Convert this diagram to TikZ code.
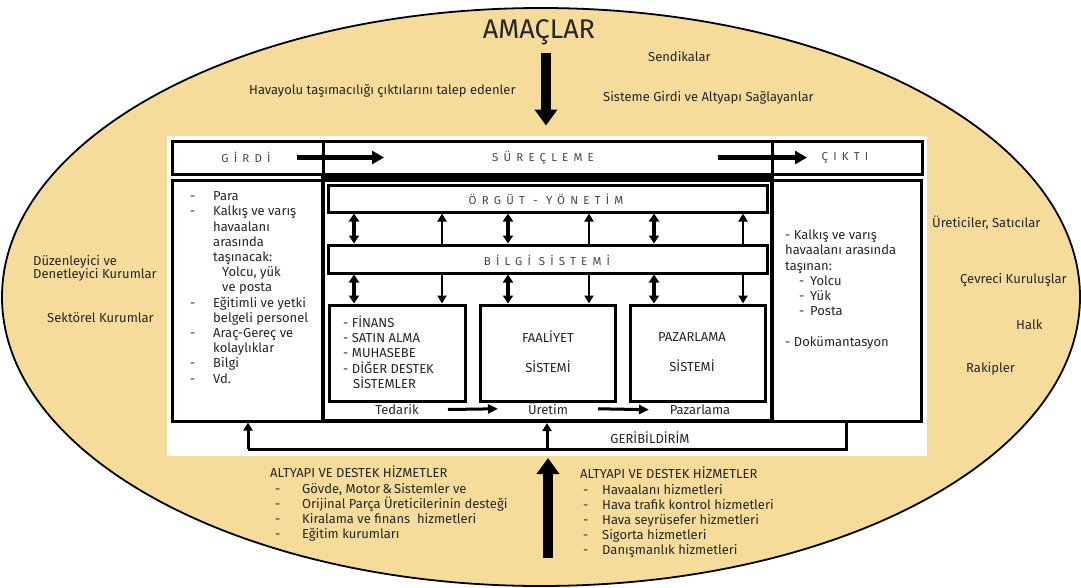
\documentclass[tikz,border=0pt]{standalone}
\usepackage{fontspec}
\setmainfont{Fira Sans}
\newfontfamily\spacedfont[LetterSpace=45]{Fira Sans}
\usetikzlibrary{arrows.meta}
\definecolor{sand}{RGB}{246,220,155}
\definecolor{ink}{RGB}{38,38,38}
\definecolor{hdr}{RGB}{70,70,85}
\newcommand{\dashrow}[1]{\makebox[23pt][l]{-}#1}
\newcommand{\controw}[1]{\hspace*{23pt}#1}
% fixed height for the first line of a list, so its top sits 11pt above the baseline
\newcommand{\firstline}{\rule{0pt}{11pt}}
\begin{document}
\begin{tikzpicture}[x=1pt,y=-1pt,
  txt/.style={font=\fontsize{13}{15.2}\selectfont, text=ink, inner sep=0pt},
  hdrtxt/.style={font=\spacedfont\fontsize{11.5}{13}\selectfont, text=hdr, inner sep=0pt},
  box/.style={draw=black, line width=3pt, fill=white, inner sep=0pt},
  thinarr/.style={line width=2.5pt, -{Triangle[width=9pt,length=8pt]}},
  dblarr/.style={line width=3.5pt, {Triangle[width=10pt,length=8pt]}-{Triangle[width=10pt,length=8pt]}},
  flowarr/.style={line width=5.5pt, -{Triangle[width=13pt,length=12pt]}},
  steparr/.style={line width=3pt, -{Triangle[width=9pt,length=10pt]}},
  bigarr/.style={line width=10pt, -{Triangle[width=22pt,length=16pt]}},
  fbline/.style={line width=3pt}
]
\useasboundingbox (0,0) rectangle (1081,587);
\fill[white] (0,0) rectangle (1081,587);

% outer environment
\draw[fill=sand, line width=1.8pt] (541,297) ellipse [x radius=539, y radius=289];

% white panel holding the system
\fill[white] (167,136) rectangle (927,456);

% top bar
\node[box, minimum width=151pt, minimum height=33pt] (girdi) at (247.5,157.5) {};
\node[box, minimum width=449pt, minimum height=33pt] (surec) at (547.5,157.5) {};
\node[box, minimum width=150pt, minimum height=33pt] (cikti) at (847,157.5) {};
\node[hdrtxt] at (246,157.5) {GİRDİ};
\node[hdrtxt] at (543,157.5) {SÜREÇLEME};
\node[hdrtxt] at (845,157.5) {ÇIKTI};

% body
\node[box, minimum width=151pt, minimum height=241pt] (inp) at (247.5,300.5) {};
\node[box, minimum width=149pt, minimum height=241pt] (out) at (846.5,300.5) {};
\node[box, line width=4pt, minimum width=449pt, minimum height=241pt] (proc) at (547.5,300.5) {};
\draw[line width=6pt] (proc.north west) -- (proc.north east);

% process layers
\node[box, minimum width=439pt, minimum height=27pt] (org) at (547.5,198.5) {};
\node[hdrtxt] at (546,199) {ÖRGÜT - YÖNETİM};
\node[box, minimum width=439pt, minimum height=28pt] (bil) at (547.5,259) {};
\node[hdrtxt] at (547,260) {BİLGİ\hspace{8pt}SİSTEMİ};

\node[box, minimum width=136pt, minimum height=96pt] (fin) at (397,353) {};
\node[box, minimum width=135pt, minimum height=96pt] (faal) at (547.5,353) {};
\node[box, minimum width=135pt, minimum height=96pt] (pzr) at (697.5,353) {};

\node[txt, anchor=north west, align=left] (finlist) at (343,315.5) {\firstline- FİNANS\\- SATIN ALMA\\- MUHASEBE\\- DİĞER DESTEK\\\hspace*{10pt}SİSTEMLER};
\node[txt, anchor=north, align=center, font=\fontsize{13}{30}\selectfont] (faaltxt) at (548,330.5) {\firstline FAALİYET\\SİSTEMİ};
\node[txt, anchor=north, align=center, font=\fontsize{13}{30}\selectfont] (pzrtxt) at (692,330.5) {\firstline PAZARLAMA\\SİSTEMİ};

% arrows between the layers
\foreach \xx in {354,508,654} {
  \draw[dblarr] (org.south -| \xx,0) -- (bil.north -| \xx,0);
  \draw[dblarr] (bil.south -| \xx,0) -- (fin.north -| \xx,0);
}
\foreach \xx in {442,589,743} {
  \draw[thinarr] (bil.north -| \xx,0) -- (org.south -| \xx,0);
  \draw[thinarr] (bil.south -| \xx,0) -- (fin.north -| \xx,0);
}

% value chain
\node[txt, anchor=base] (ted) at (397,414.5) {Tedarik};
\node[txt, anchor=base] (ure) at (548,414.5) {Üretim};
\node[txt, anchor=base] (paz) at (700,414.5) {Pazarlama};
\draw[steparr] (ted.center -| 448,0) -- (ure.center -| 498,0);
\draw[steparr] (ure.center -| 598,0) -- (paz.center -| 649,0);

% flow arrows on the top bar
\draw[flowarr] (girdi.center -| 297,0) -- (surec.center -| 384,0);
\draw[flowarr] (surec.center -| 718,0) -- (cikti.center -| 807,0);

% inputs
\node[txt, anchor=north west, align=left] (inplist) at (190,189.5) {%
\firstline\dashrow{Para}\\
\dashrow{Kalkış ve varış}\\
\controw{havaalanı}\\
\controw{arasında}\\
\controw{taşınacak:}\\
\hspace*{32pt}Yolcu, yük\\
\hspace*{32pt}ve posta\\
\dashrow{Eğitimli ve yetki}\\
\controw{belgeli personel}\\
\dashrow{Araç-Gereç ve}\\
\controw{kolaylıklar}\\
\dashrow{Bilgi}\\
\dashrow{Vd.}};

% outputs
\node[txt, anchor=north west, align=left] (outlist) at (785,228.5) {%
\firstline- Kalkış ve varış\\
havaalanı arasında\\
taşınan:\\
\hspace*{14pt}\makebox[11pt][l]{-}Yolcu\\
\hspace*{14pt}\makebox[11pt][l]{-}Yük\\
\hspace*{14pt}\makebox[11pt][l]{-}Posta\\[15.2pt]
- Dokümantasyon};

% feedback loop
\coordinate (fbR) at (846,449);
\coordinate (fbL) at (248,449);
\coordinate (fbM) at (547,449);
\draw[fbline] (out.south -| fbR) -- (fbR) -- (fbL);
\draw[fbline, -{Triangle[width=9pt,length=8pt]}] (fbL) -- (inp.south -| fbL);
\draw[fbline, -{Triangle[width=9pt,length=8pt]}] (fbM) -- (proc.south -| fbM);
\node[txt] (fb) at (650,438) {GERİBİLDİRİM};

% goals
\node[font=\fontsize{27}{30}\selectfont, text=ink, inner sep=0pt] (amac) at (539,32) {AMAÇLAR};
\draw[bigarr] (amac.south -| 546,0) ++(0,8) -- (surec.north -| 546,0) [shorten >=14pt];
\coordinate (bottail) at (548,558);
\draw[bigarr, shorten >=9pt] (bottail) -- (fbM -| 548,0) ;

% stakeholders
\node[txt, anchor=base west] (talep) at (249,94) {Havayolu taşımacılığı çıktılarını talep edenler};
\node[txt, anchor=base west] (send) at (648,61) {Sendikalar};
\node[txt, anchor=base west] (sagla) at (603,101) {Sisteme Girdi ve Altyapı Sağlayanlar};
\node[txt, anchor=north west, align=left, font=\fontsize{13}{13.5}\selectfont] (duz) at (33,254) {\firstline Düzenleyici ve\\Denetleyici Kurumlar};
\node[txt, anchor=base west] (sek) at (47,322) {Sektörel Kurumlar};
\node[txt, anchor=base west] (uret) at (932,227) {Üreticiler, Satıcılar};
\node[txt, anchor=base west] (cevre) at (960,283) {Çevreci Kuruluşlar};
\node[txt, anchor=base west] (halk) at (1016,329) {Halk};
\node[txt, anchor=base west] (rakip) at (966,372) {Rakipler};

% support services
\node[txt, anchor=north west, align=left] (destek1) at (270,466) {%
\firstline ALTYAPI VE DESTEK HİZMETLER\\
\hspace*{5pt}\makebox[27pt][l]{-}Gövde, Motor\,\&\,Sistemler ve\\
\hspace*{5pt}\makebox[27pt][l]{-}Orijinal Parça Üreticilerinin desteği\\
\hspace*{5pt}\makebox[27pt][l]{-}Kiralama ve finans\ \ hizmetleri\\
\hspace*{5pt}\makebox[27pt][l]{-}Eğitim kurumları};
\node[txt, anchor=north west, align=left] (destek2) at (580,467) {%
\firstline ALTYAPI VE DESTEK HİZMETLER\\
\hspace*{3pt}\makebox[19pt][l]{-}Havaalanı hizmetleri\\
\hspace*{3pt}\makebox[19pt][l]{-}Hava trafik kontrol hizmetleri\\
\hspace*{3pt}\makebox[19pt][l]{-}Hava seyrüsefer hizmetleri\\
\hspace*{3pt}\makebox[19pt][l]{-}Sigorta hizmetleri\\
\hspace*{3pt}\makebox[19pt][l]{-}Danışmanlık hizmetleri};
\end{tikzpicture}
\end{document}
